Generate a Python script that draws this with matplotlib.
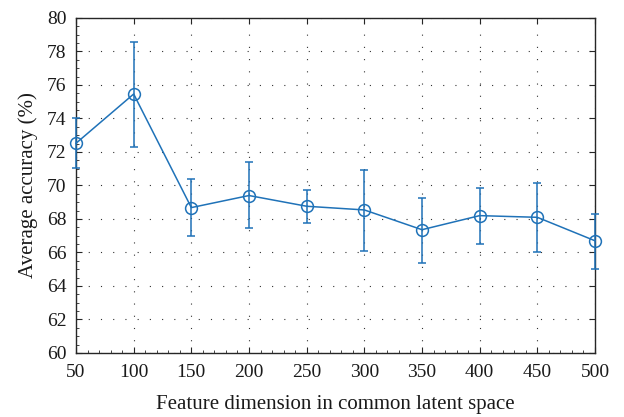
#accuracy vs feature dimension with error bars
import matplotlib
matplotlib.use("Agg")
import matplotlib.pyplot as plt
from matplotlib.ticker import MultipleLocator

#values
dims = [50, 100, 150, 200, 250, 300, 350, 400, 450, 500]
acc_mean = [72.52, 75.46, 68.68, 69.40, 68.76, 68.54, 67.36, 68.20, 68.10, 66.70]
err_low = [71.04, 72.30, 67.00, 67.48, 67.76, 66.08, 65.38, 66.50, 66.04, 65.02]
err_high = [74.00, 78.58, 70.36, 71.38, 69.76, 70.90, 69.26, 69.82, 70.12, 68.30]

yerr = [[m - lo for m, lo in zip(acc_mean, err_low)],
        [hi - m for m, hi in zip(acc_mean, err_high)]]

plt.rcParams["font.family"] = ["Liberation Serif", "DejaVu Serif"]
plt.rcParams["font.size"] = 14

fig = plt.figure(figsize=(6.24, 4.17), dpi=100)
ax = fig.add_axes([0.1218, 0.1535, 0.8317, 0.8034])

line_col = "#1f72b8"
ax.errorbar(dims, acc_mean, yerr=yerr, color=line_col, linewidth=1.1,
            marker="o", markersize=8.5, markerfacecolor="none", markeredgewidth=1.1,
            capsize=3, elinewidth=1.1, capthick=1.1, clip_on=False, zorder=3)

ax.set_xlim(50, 500)
ax.set_ylim(60, 80)
ax.xaxis.set_major_locator(MultipleLocator(50))
ax.xaxis.set_minor_locator(MultipleLocator(10))
ax.yaxis.set_major_locator(MultipleLocator(2))
ax.yaxis.set_minor_locator(MultipleLocator(0.5))

#matlab style box, inward ticks, minor ticks only on left/bottom
ax.tick_params(which="major", direction="in", top=True, right=True, colors="0.15",
               length=4, width=0.8, labelsize=14, labelcolor="0.1")
ax.tick_params(which="minor", direction="in", length=2.5, width=0.6, colors="0.15")
ax.tick_params(axis="x", which="major", pad=8)
ax.tick_params(axis="y", which="major", pad=7)
for sp in ax.spines.values():
    sp.set_color("0.15")
    sp.set_linewidth(1.0)

ax.grid(True, which="major", color="0.2", linestyle=(0, (1, 10)), linewidth=0.8)

ax.set_xlabel("Feature dimension in common latent space", fontsize=15, color="0.1", labelpad=10)
ax.set_ylabel("Average accuracy (%)", fontsize=15, color="0.1", labelpad=6)

fig.savefig("out.png", dpi=100)
